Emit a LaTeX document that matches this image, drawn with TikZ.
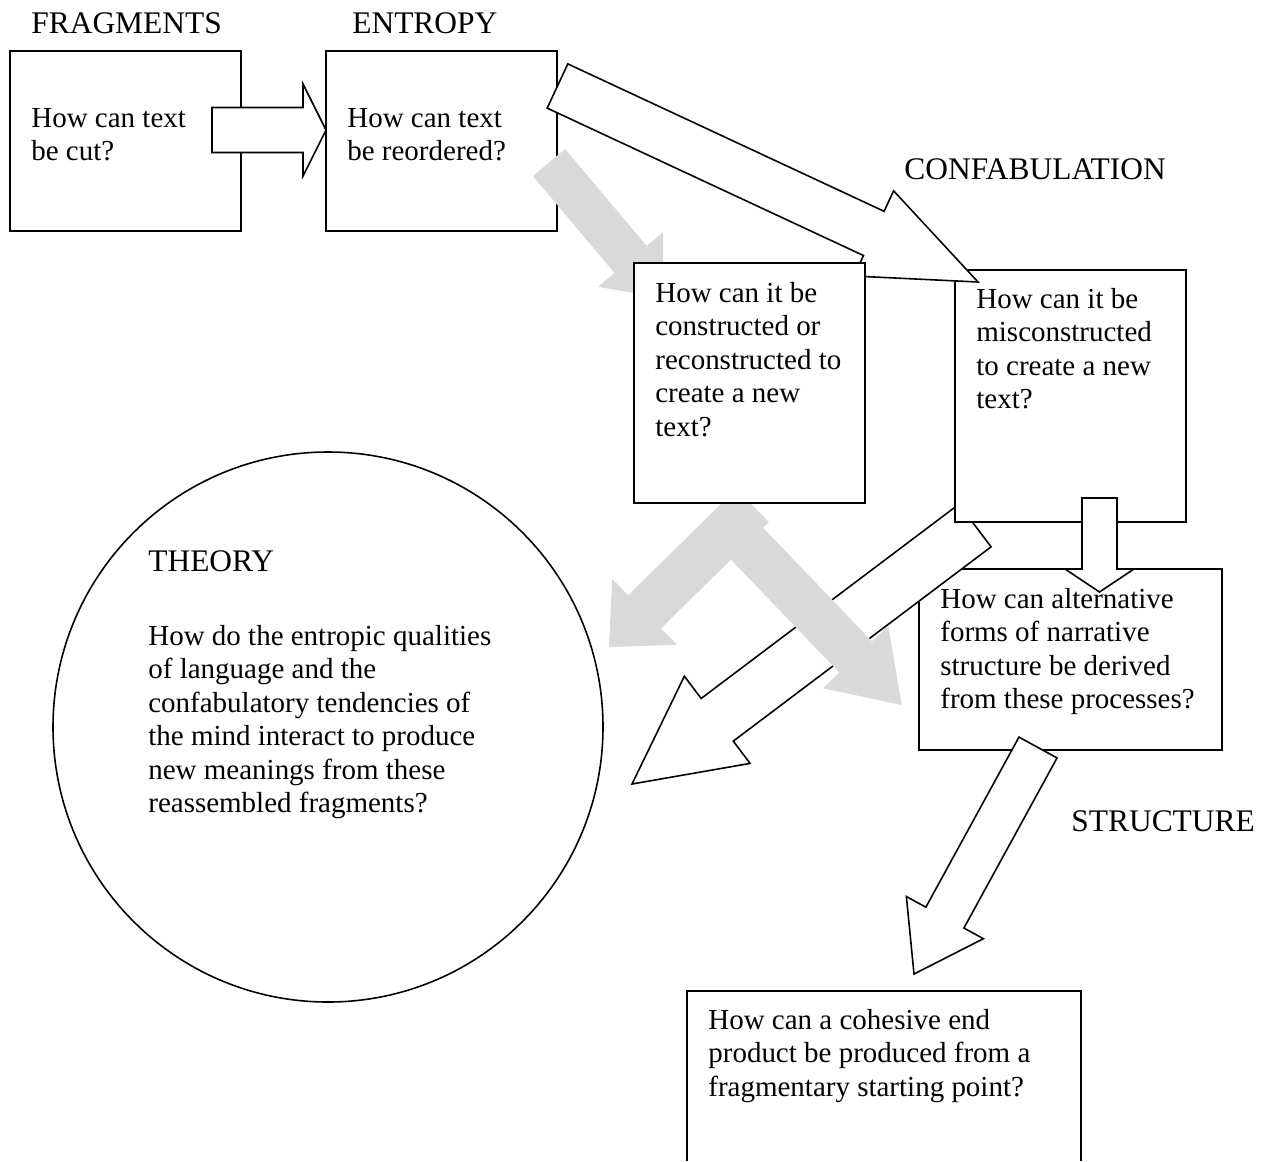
\documentclass[tikz,border=0pt]{standalone}
\usepackage{fontspec}
\setmainfont{Liberation Serif}
\usetikzlibrary{calc}
\definecolor{arrowgray}{HTML}{D9D9D9}
% one drawing unit = 0.02cm
\newcommand\pxu{0.02cm}
\newcommand\qtext[1]{\begin{tabular}[t]{@{}l@{}}#1\end{tabular}}
% block arrow: [style]{tail}{tip}{shaft half width}{head half width}{head length}
\newcommand\blockarrow[6][]{%
  \pgfmathsetlengthmacro\baS{#4*0.02cm}%
  \pgfmathsetlengthmacro\baH{#5*0.02cm}%
  \pgfmathsetlengthmacro\baL{#6*0.02cm}%
  \coordinate (ba-t) at #2;
  \coordinate (ba-h) at #3;
  \coordinate (ba-b) at ($(ba-h)!\baL!(ba-t)$);
  \path[#1] ($(ba-t)!\baS!90:(ba-h)$) -- ($(ba-b)!\baS!-90:(ba-t)$)
    -- ($(ba-b)!\baH!-90:(ba-t)$) -- (ba-h) -- ($(ba-b)!\baH!90:(ba-t)$)
    -- ($(ba-b)!\baS!90:(ba-t)$) -- ($(ba-t)!\baS!-90:(ba-h)$) -- cycle;}
\tikzset{
  qbox/.style={draw, fill=white, line width=0.9pt, inner sep=0pt, outer sep=0pt, anchor=north west},
  warrow/.style={draw, fill=white, line width=0.9pt, line join=miter},
  garrow/.style={fill=arrowgray},
  txt/.style={font=\fontsize{16.5}{19.1}\selectfont, inner sep=0pt, anchor=base west},
  heading/.style={font=\fontsize{17.9}{20.6}\selectfont, inner sep=0pt, anchor=base west},
}
\begin{document}
\begin{tikzpicture}[x=0.02cm, y=-0.02cm]
\useasboundingbox (0,0) rectangle (1273,1161);

% boxes underneath everything
\node[qbox, minimum width=231*\pxu, minimum height=180*\pxu] (frag) at (10,51) {};
\node[qbox, minimum width=231*\pxu, minimum height=180*\pxu] (entropy) at (326,51) {};
\node[qbox, minimum width=303*\pxu, minimum height=181*\pxu] (alt) at (919,569) {};
\node[draw, circle, line width=0.9pt, minimum size=550*\pxu, inner sep=0pt] (theory) at (328,727) {};
\coordinate (endbl) at (687,1161);
\coordinate (endtl) at (687,991);
\coordinate (endtr) at (1081,991);
\coordinate (endbr) at (1081,1161);
\draw[line width=0.9pt] (endbl) -- (endtl) -- (endtr) -- (endbr);

% confabulation -> theory
\blockarrow[warrow]{(975,525.5)}{(632,784)}{26.7}{54.6}{106.7}

% grey arrows
\blockarrow[garrow]{(549,162.5)}{(662.8,297.7)}{21}{42.6}{50}
\blockarrow[garrow]{(728.2,524)}{(901.7,705)}{22.6}{45.2}{66.5}
\blockarrow[garrow]{(752.5,505.5)}{(609,647)}{23.3}{46.3}{50}

% confabulation box and the arrow below it
\node[qbox, minimum width=231*\pxu, minimum height=252*\pxu] (confab) at (955,270) {};
\blockarrow[warrow]{(1099.5,498)}{(1099.5,592)}{17.5}{34.5}{23}

% entropy -> confabulation
\blockarrow[warrow]{(557.5,86)}{(978,282)}{24.4}{47}{115}

\node[qbox, minimum width=231*\pxu, minimum height=240*\pxu] (construct) at (634,263) {};

% fragments -> entropy
\blockarrow[warrow]{(212,130)}{(326,130)}{22.5}{46}{23}

% alternative forms -> end product
\blockarrow[warrow]{(1038,747.5)}{(914,974)}{21.7}{43.9}{64.3}

% headings
\node[heading] (lfrag) at (31,33) {FRAGMENTS};
\node[heading] (lentropy) at (352,33) {ENTROPY};
\node[heading] (lconfab) at (904,179) {CONFABULATION};
\node[heading] (lstruct) at (1071,831) {STRUCTURE};
\node[heading] (ltheory) at (148,571) {THEORY};

% questions
\node[txt] (qfrag) at (31,127) {\qtext{How can text\\be cut?}};
\node[txt] (qentropy) at (347,127) {\qtext{How can text\\be reordered?}};
\node[txt] (qconstruct) at (655,302) {\qtext{How can it be\\constructed or\\reconstructed to\\create a new\\text?}};
\node[txt] (qconfab) at (976,308) {\qtext{How can it be\\misconstructed\\to create a new\\text?}};
\node[txt] (qalt) at (940,608) {\qtext{How can alternative\\forms of narrative\\structure be derived\\from these processes?}};
\node[txt] (qend) at (708,1029) {\qtext{How can a cohesive end\\product be produced from a\\fragmentary starting point?}};
\node[txt] (qtheory) at (148,645) {\qtext{How do the entropic qualities\\of language and the\\confabulatory tendencies of\\the mind interact to produce\\new meanings from these\\reassembled fragments?}};
\end{tikzpicture}
\end{document}
